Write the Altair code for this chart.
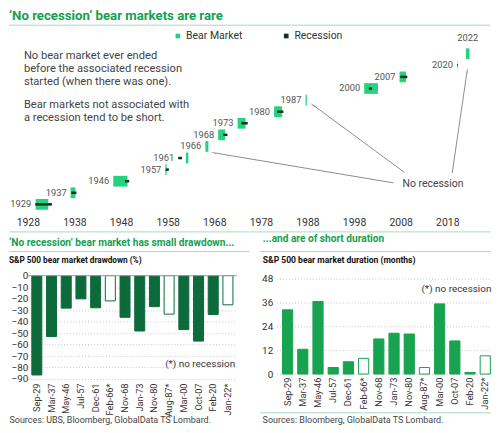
import math
import altair as alt
import pandas as pd

FONT = "Roboto"

# ---------------- data ----------------
episodes = ["1929", "1937", "1946", "1957", "1961", "1966", "1968",
            "1973", "1980", "1987", "2000", "2007", "2020", "2022"]
bar_labels = ["Sep-29", "Mar-37", "May-46", "Jul-57", "Dec-61", "Feb-66*", "Nov-68",
              "Jan-73", "Nov-80", "Aug-87*", "Mar-00", "Oct-07", "Feb-20", "Jan-22*"]
bear_start = [1929.67, 1937.17, 1946.33, 1957.50, 1961.92, 1966.08, 1968.83,
              1973.00, 1980.83, 1987.58, 2000.17, 2007.75, 2020.08, 2022.00]
duration_months = [32.4, 12.5, 36.6, 3.3, 6.2, 7.9, 17.7,
                   20.6, 20.2, 3.3, 35.4, 16.7, 0.8, 9.2]
drawdown_pct = [-86.5, -53.0, -28.3, -20.2, -28.0, -22.0, -36.3,
                -48.2, -27.0, -33.5, -47.0, -57.0, -33.8, -25.4]
rec_start = [1929.58, 1937.33, 1948.83, 1957.58, 1960.25, None, 1969.92,
             1973.83, 1981.50, None, 2001.17, 2007.92, 2020.08, None]
rec_end = [1933.17, 1938.42, 1949.75, 1958.25, 1961.08, None, 1970.83,
           1975.17, 1982.83, None, 2001.83, 2009.42, 2020.25, None]
axis_years = [1928, 1938, 1948, 1958, 1968, 1978, 1988, 1998, 2008, 2018]

note_lines = ["No bear market ever ended", "before the associated recession",
              "started (when there was one).",
              "Bear markets not associated with", "a recession tend to be short."]
note_rows = [12.80, 11.70, 10.56, 8.60, 7.49]
note_year = 1927.15

norec_text_year = 2008.4
norec_text_row = 1.715
arrow_from_year = [2006.48, 2008.76, 2019.06]
arrow_from_row = [1.853, 2.77, 2.71]
arrow_to_year = [1967.39, 1988.72, 2022.33]
arrow_to_row = [4.485, 8.714, 11.715]

# ---------------- colours ----------------
TITLE_GREEN = "#14a050"
RULE_GREEN = "#a6dbbd"
BEAR_GREEN = "#26d27f"
REC_DARK = "#0f3323"
LEFT_BAR = "#0d6b3b"
RIGHT_BAR = "#17a34f"
TXT = "#444444"

# ---------------- geometry ----------------
PX_YR = 4.689
W_TOP = 465
H_TOP = 186
ROW_PX = 11.66
X_MIN = 1928
X_MAX = 1928 + W_TOP / PX_YR
Y_LO = -(212 - 203.3) / ROW_PX
Y_HI = (203.3 - 26) / ROW_PX

one = pd.DataFrame({"k": [0]})

# ---------------- top chart ----------------
bear_end = [s + d / 12 for s, d in zip(bear_start, duration_months)]
top_df = pd.DataFrame({
    "episode": episodes,
    "row": list(range(len(episodes))),
    "start": bear_start,
    "end": bear_end,
    "kind": ["Bear Market"] * len(episodes),
})
top_df["label_x"] = [min(s, r) if r is not None else s for s, r in zip(bear_start, rec_start)]
top_df["mid"] = (top_df["start"] + top_df["end"]) / 2

rec_df = pd.DataFrame({"row": list(range(len(episodes))), "rs": rec_start, "re": rec_end}).dropna()


def xs():
    return alt.Scale(domain=[X_MIN, X_MAX], nice=False, zero=False, padding=0)


def ys():
    return alt.Scale(domain=[Y_LO, Y_HI], nice=False, zero=False, padding=0)


top_x_axis = alt.Axis(values=axis_years, format="d", labelFlush=False, domain=False,
                      ticks=False, grid=False, labelPadding=5, labelFontSize=10.5,
                      labelColor="#333333", title=None)

bars = alt.Chart(top_df).mark_bar(size=10.8, orient="horizontal").encode(
    x=alt.X("start:Q", scale=xs(), axis=top_x_axis),
    x2="end:Q",
    y=alt.Y("row:Q", scale=ys(), axis=None),
    color=alt.Color("kind:N",
                    scale=alt.Scale(domain=["Bear Market", "Recession"], range=[BEAR_GREEN, REC_DARK]),
                    legend=alt.Legend(orient="none", legendX=145.7, legendY=2.5, direction="horizontal",
                                      title=None, symbolType="square", symbolSize=22,
                                      symbolStrokeWidth=0, labelFontSize=10.5, labelColor="#333333",
                                      columnPadding=38, labelOffset=3, padding=0)),
)

recs = alt.Chart(rec_df).mark_rule(strokeWidth=2.5, color=REC_DARK).encode(
    x=alt.X("rs:Q", scale=xs(), axis=top_x_axis), x2="re:Q", y=alt.Y("row:Q", scale=ys(), axis=None))

year_lbl = alt.Chart(top_df[top_df["episode"] != "2022"]).mark_text(
    align="right", baseline="middle", dx=-4, fontSize=9.4, color="#555555").encode(
    x=alt.X("label_x:Q", scale=xs(), axis=top_x_axis), y=alt.Y("row:Q", scale=ys(), axis=None),
    text="episode:N")

year_lbl_top = alt.Chart(top_df[top_df["episode"] == "2022"]).mark_text(
    align="center", baseline="middle", dy=-15.7, fontSize=9.4, color="#555555").encode(
    x=alt.X("mid:Q", scale=xs(), axis=top_x_axis), y=alt.Y("row:Q", scale=ys(), axis=None),
    text="episode:N")

notes_df = pd.DataFrame({"x": [note_year] * len(note_lines), "row": note_rows, "t": note_lines})
notes = alt.Chart(notes_df).mark_text(align="left", baseline="middle", fontSize=11.2, color=TXT).encode(
    x=alt.X("x:Q", scale=xs(), axis=top_x_axis), y=alt.Y("row:Q", scale=ys(), axis=None), text="t:N")

norec_df = pd.DataFrame({"x": [norec_text_year], "row": [norec_text_row], "t": ["No recession"]})
norec = alt.Chart(norec_df).mark_text(align="left", baseline="middle", fontSize=10.5, color=TXT).encode(
    x=alt.X("x:Q", scale=xs(), axis=top_x_axis), y=alt.Y("row:Q", scale=ys(), axis=None), text="t:N")

# arrows: shaft stops just before the tip, a wedge sits at the tip
shaft_x2, shaft_y2, head_x, head_y, head_ang = [], [], [], [], []
for x1, y1, x2, y2 in zip(arrow_from_year, arrow_from_row, arrow_to_year, arrow_to_row):
    dxp = (x2 - x1) * PX_YR
    dyp = -(y2 - y1) * ROW_PX
    L = math.hypot(dxp, dyp)
    ux, uy = dxp / L, dyp / L
    head_x.append(x2 - ux * 3.0 / PX_YR)
    head_y.append(y2 + uy * 3.0 / ROW_PX)
    shaft_x2.append(x2 - ux * 5 / PX_YR)
    shaft_y2.append(y2 + uy * 5 / ROW_PX)
    head_ang.append((math.degrees(math.atan2(dxp, -dyp)) + 360) % 360)

arrow_df = pd.DataFrame({"x1": arrow_from_year, "y1": arrow_from_row,
                         "x2": shaft_x2, "y2": shaft_y2,
                         "hx": head_x, "hy": head_y, "ang": head_ang})
shafts = alt.Chart(arrow_df).mark_rule(color="#8c8c8c", strokeWidth=1).encode(
    x=alt.X("x1:Q", scale=xs(), axis=top_x_axis), y=alt.Y("y1:Q", scale=ys(), axis=None),
    x2="x2:Q", y2="y2:Q")
heads = alt.Chart(arrow_df).mark_point(shape="wedge", filled=True, size=45, color="#8c8c8c", opacity=1).encode(
    x=alt.X("hx:Q", scale=xs(), axis=top_x_axis), y=alt.Y("hy:Q", scale=ys(), axis=None),
    angle=alt.Angle("ang:Q", scale=None))

top_rule = alt.Chart(one).mark_rule(color=RULE_GREEN, strokeWidth=1).encode(
    x=alt.value(-19), x2=alt.value(W_TOP), y=alt.value(-3))

top = alt.layer(bars, recs, year_lbl, year_lbl_top, notes, norec, shafts, heads, top_rule).properties(
    width=W_TOP, height=H_TOP,
    title=alt.TitleParams(text="‘No recession’ bear markets are rare", anchor="start", frame="group",
                          dx=-19, fontSize=13.3, fontWeight="bold", color=TITLE_GREEN, offset=2))

# ---------------- bottom charts ----------------
bottom_df = pd.DataFrame({
    "label": bar_labels,
    "drawdown": drawdown_pct,
    "duration": duration_months,
    "kind": ["rec" if r is not None else "norec" for r in rec_start],
})

W_L, H_L = 210.3, 104
W_R, H_R = 215.5, 99
R_MAX = 48 * H_R / 95.7


def lxs():
    return alt.Scale(type="band", domain=bar_labels, paddingInner=0.32, paddingOuter=0.2685)


def lys():
    return alt.Scale(domain=[-90, 0], nice=False, zero=False, padding=0)


def rxs():
    return alt.Scale(type="band", domain=bar_labels, paddingInner=0.33, paddingOuter=0.2075, align=0.945)


def rys():
    return alt.Scale(domain=[0, R_MAX], nice=False, zero=False, padding=0)


left_x_axis = alt.Axis(labelAngle=270, domain=False, ticks=False, labelPadding=4,
                       labelFontSize=9.3, labelColor="#333333",
                       title="Sources: UBS, Bloomberg, GlobalData TS Lombard.",
                       titleX=-19, titleY=40.5, titleAlign="left", titleBaseline="middle",
                       titleFontWeight="normal", titleFontSize=9, titleColor=TXT)
left_y_axis = alt.Axis(values=list(range(0, -100, -10)), domain=False, ticks=False, grid=True,
                       gridDash=[1, 2], gridColor="#c8c8c8", labelPadding=0, labelFontSize=10,
                       labelColor="#333333", title=None)

left_bars = alt.Chart(bottom_df).mark_bar(strokeWidth=1).encode(
    x=alt.X("label:N", scale=lxs(), axis=left_x_axis),
    y=alt.Y("drawdown:Q", scale=lys(), axis=left_y_axis),
    fill=alt.Fill("kind:N", scale=alt.Scale(domain=["rec", "norec"], range=[LEFT_BAR, "#ffffff"]), legend=None),
    stroke=alt.value(LEFT_BAR),
)
left_zero = alt.Chart(one).mark_rule(color="#a0a0a0", strokeWidth=1).encode(
    y=alt.Y(datum=0, scale=lys(), axis=left_y_axis))
left_note = alt.Chart(pd.DataFrame({"label": ["Aug-87*"], "v": [-76.8], "t": ["(*) no recession"]})).mark_text(
    align="left", baseline="middle", dx=-4, fontSize=10, color="#333333").encode(
    x=alt.X("label:N", scale=lxs(), axis=left_x_axis), y=alt.Y("v:Q", scale=lys(), axis=left_y_axis),
    text="t:N")
l_r2 = alt.Chart(one).mark_rule(color=RULE_GREEN, strokeWidth=1).encode(
    x=alt.value(-19), x2=alt.value(223), y=alt.value(-44))
l_r3 = alt.Chart(one).mark_rule(color=RULE_GREEN, strokeWidth=1).encode(
    x=alt.value(-19), x2=alt.value(223), y=alt.value(-24.3))

left = alt.layer(left_bars, left_zero, left_note, l_r2, l_r3).properties(
    width=W_L, height=H_L,
    title=alt.TitleParams(text="‘No recession’ bear market has small drawdown...",
                          subtitle="S&P 500 bear market drawdown (%)",
                          anchor="start", frame="group", dx=-19, dy=33, offset=0,
                          fontSize=10.2, fontWeight="bold", color=TITLE_GREEN,
                          subtitleFontSize=8.3, subtitleFontWeight="bold", subtitleColor="#111111",
                          subtitlePadding=8))

right_x_axis = alt.Axis(labelAngle=270, domain=False, ticks=False, labelPadding=3,
                        labelFontSize=9.3, labelColor="#333333",
                        title="Sources: Bloomberg, GlobalData TS Lombard.",
                        titleX=-14.5, titleY=46, titleAlign="left", titleBaseline="middle",
                        titleFontWeight="normal", titleFontSize=9, titleColor=TXT)
right_y_axis = alt.Axis(values=[0, 12, 24, 36, 48], domain=False, ticks=False, grid=True,
                        gridDash=[1, 2], gridColor="#c8c8c8", labelPadding=3.8, labelFontSize=10,
                        labelColor="#333333", title=None)

right_bars = alt.Chart(bottom_df).mark_bar(strokeWidth=1).encode(
    x=alt.X("label:N", scale=rxs(), axis=right_x_axis),
    y=alt.Y("duration:Q", scale=rys(), axis=right_y_axis),
    fill=alt.Fill("kind:N", scale=alt.Scale(domain=["rec", "norec"], range=[RIGHT_BAR, "#ffffff"]), legend=None),
    stroke=alt.value(RIGHT_BAR),
)
right_note = alt.Chart(pd.DataFrame({"label": ["Aug-87*"], "v": [43.0], "t": ["(*) no recession"]})).mark_text(
    align="left", baseline="middle", dx=-3, fontSize=10, color="#333333").encode(
    x=alt.X("label:N", scale=rxs(), axis=right_x_axis), y=alt.Y("v:Q", scale=rys(), axis=right_y_axis),
    text="t:N")
r_r2 = alt.Chart(one).mark_rule(color=RULE_GREEN, strokeWidth=1).encode(
    x=alt.value(-26.5), x2=alt.value(W_R), y=alt.value(-44))
r_r3 = alt.Chart(one).mark_rule(color=RULE_GREEN, strokeWidth=1).encode(
    x=alt.value(-16.5), x2=alt.value(W_R), y=alt.value(-24.3))
r_r4 = alt.Chart(one).mark_rule(color=RULE_GREEN, strokeWidth=1).encode(
    x=alt.value(-16.5), x2=alt.value(W_R), y=alt.value(138))

right = alt.layer(right_bars, right_note, r_r2, r_r3, r_r4).properties(
    width=W_R, height=H_R,
    title=alt.TitleParams(text="...and are of short duration",
                          subtitle="S&P 500 bear market duration (months)",
                          anchor="start", frame="group", dx=-13.8, dy=33, offset=0,
                          fontSize=10.2, fontWeight="bold", color=TITLE_GREEN,
                          subtitleFontSize=8.6, subtitleFontWeight="bold", subtitleColor="#111111",
                          subtitlePadding=12))

bottom = alt.hconcat(left, right, spacing=39.2, bounds="flush").resolve_scale(fill="independent")

chart = alt.vconcat(top, bottom, spacing=63, bounds="flush").properties(padding=0).configure(
    font=FONT).configure_view(stroke=None).configure_axis(labelFont=FONT, titleFont=FONT).configure_legend(
    labelFont=FONT).configure_title(font=FONT, subtitleFont=FONT)

chart.save("out.html", embed_options={"renderer": "svg", "actions": False})
